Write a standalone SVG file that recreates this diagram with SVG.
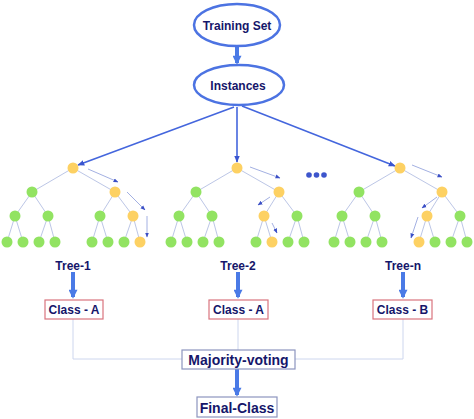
<svg xmlns="http://www.w3.org/2000/svg" xmlns:xlink="http://www.w3.org/1999/xlink" width="474" height="419" viewBox="0 0 474 419">
<style>
.lbl{font-family:"Liberation Sans",Arial,sans-serif;font-weight:bold;font-size:12px;fill:#15166a;text-anchor:middle}
.big{font-size:14px}
.ell{fill:#fff;stroke:#4c73e2;stroke-width:2.5}
.cls{fill:#fff;stroke:#d9747e;stroke-width:1.2}
.vote{fill:#fff;stroke:#8d95bf;stroke-width:1.2}
.edge{stroke:#bcc6e6;stroke-width:1;fill:none}
.g{fill:#92e362}
.o{fill:#fdd163}
.main{stroke:#4466dd;stroke-width:1.6;fill:none}
.thick{stroke:#4a7ae6;stroke-width:4;fill:none}
.small{stroke:#a3b0e2;stroke-width:1;fill:none}
.thin{stroke:#cdd6ee;stroke-width:1;fill:none}
</style>
<defs>
<marker id="ah" viewBox="0 0 10 10" refX="9" refY="5" markerWidth="7" markerHeight="7" markerUnits="userSpaceOnUse" orient="auto"><path d="M0,1 L10,5 L0,9 Z" fill="#3a55d0"/></marker>
<marker id="ahs" viewBox="0 0 10 10" refX="9" refY="5" markerWidth="5" markerHeight="5" markerUnits="userSpaceOnUse" orient="auto"><path d="M0,1 L10,5 L0,9 Z" fill="#3b4fc6"/></marker>
<marker id="aht" viewBox="0 0 10 10" refX="8" refY="5" markerWidth="10" markerHeight="9" markerUnits="userSpaceOnUse" orient="auto"><path d="M0,0 L10,5 L0,10 Z" fill="#4a7ae6"/></marker>
<path id="tedges" class="edge" d="M0,0 L-41,24 M0,0 L42,24 M-41,24 L-58,48 M-41,24 L-25,48 M42,24 L27,48 M42,24 L60,48 M-58,48 L-66,74 M-58,48 L-50,74 M-25,48 L-34,74 M-25,48 L-18,74 M27,48 L19,74 M27,48 L35,74 M60,48 L51,74 M60,48 L67,74"/>
</defs>

<g id="connectors">
<line class="thick" x1="237" y1="47" x2="237" y2="63" marker-end="url(#aht)"/>
<line class="main" x1="234" y1="107" x2="78" y2="165" marker-end="url(#ah)"/>
<line class="main" x1="237" y1="107" x2="237" y2="162" marker-end="url(#ah)"/>
<line class="main" x1="242" y1="106" x2="395" y2="166" marker-end="url(#ah)"/>
<line class="thick" x1="73" y1="272" x2="73" y2="297" marker-end="url(#aht)"/>
<line class="thick" x1="238" y1="272" x2="238" y2="297" marker-end="url(#aht)"/>
<line class="thick" x1="403" y1="272" x2="403" y2="297" marker-end="url(#aht)"/>
<path class="thin" d="M73,319 V359 H182 M403,319 V359 H295 M238,319 V350"/>
<line class="thick" x1="237" y1="369" x2="237" y2="395" marker-end="url(#aht)"/>
<g transform="translate(73,168)">
<line class="small" x1="15" y1="1" x2="45" y2="14" marker-end="url(#ahs)"/>
<line class="small" x1="54" y1="24" x2="72" y2="42" marker-end="url(#ahs)"/>
<line class="small" x1="74" y1="48" x2="74" y2="69" marker-end="url(#ahs)"/>
</g>
<g transform="translate(237,168)">
<line class="small" x1="13" y1="-1" x2="43" y2="10" marker-end="url(#ahs)"/>
<line class="small" x1="33" y1="29" x2="21" y2="37" marker-end="url(#ahs)"/>
<line class="small" x1="35" y1="55" x2="40" y2="65" marker-end="url(#ahs)"/>
</g>
<g transform="translate(400,168)">
<line class="small" x1="12" y1="-3" x2="42" y2="9" marker-end="url(#ahs)"/>
<line class="small" x1="37" y1="29" x2="22" y2="40" marker-end="url(#ahs)"/>
<line class="small" x1="18" y1="49" x2="11" y2="70" marker-end="url(#ahs)"/>
</g>
</g>

<g id="training-set">
<ellipse class="ell" cx="237" cy="25" rx="43" ry="21"/>
<text class="lbl" x="237" y="29.5">Training Set</text>
</g>
<g id="instances">
<ellipse class="ell" cx="239" cy="85" rx="45" ry="20"/>
<text class="lbl" x="238" y="89.5">Instances</text>
</g>

<g id="tree-1" transform="translate(73,168)">
<use xlink:href="#tedges" href="#tedges"/>
<circle class="o" cx="0" cy="0" r="5.5"/>
<circle class="g" cx="-41" cy="24" r="5.5"/><circle class="o" cx="42" cy="24" r="5.5"/>
<circle class="g" cx="-58" cy="48" r="5.5"/><circle class="g" cx="-25" cy="48" r="5.5"/><circle class="g" cx="27" cy="48" r="5.5"/><circle class="o" cx="60" cy="48" r="5.5"/>
<circle class="g" cx="-66" cy="74" r="5.5"/><circle class="g" cx="-50" cy="74" r="5.5"/><circle class="g" cx="-34" cy="74" r="5.5"/><circle class="g" cx="-18" cy="74" r="5.5"/>
<circle class="g" cx="19" cy="74" r="5.5"/><circle class="g" cx="35" cy="74" r="5.5"/><circle class="g" cx="51" cy="74" r="5.5"/><circle class="o" cx="67" cy="74" r="5.5"/>
</g>
<g id="tree-2" transform="translate(237,168)">
<use xlink:href="#tedges" href="#tedges"/>
<circle class="o" cx="0" cy="0" r="5.5"/>
<circle class="g" cx="-41" cy="24" r="5.5"/><circle class="o" cx="42" cy="24" r="5.5"/>
<circle class="g" cx="-58" cy="48" r="5.5"/><circle class="g" cx="-25" cy="48" r="5.5"/><circle class="o" cx="27" cy="48" r="5.5"/><circle class="g" cx="60" cy="48" r="5.5"/>
<circle class="g" cx="-66" cy="74" r="5.5"/><circle class="g" cx="-50" cy="74" r="5.5"/><circle class="g" cx="-34" cy="74" r="5.5"/><circle class="g" cx="-18" cy="74" r="5.5"/>
<circle class="g" cx="19" cy="74" r="5.5"/><circle class="o" cx="35" cy="74" r="5.5"/><circle class="g" cx="51" cy="74" r="5.5"/><circle class="g" cx="67" cy="74" r="5.5"/>
</g>
<g id="tree-n" transform="translate(400,168)">
<use xlink:href="#tedges" href="#tedges"/>
<circle class="o" cx="0" cy="0" r="5.5"/>
<circle class="g" cx="-41" cy="24" r="5.5"/><circle class="o" cx="42" cy="24" r="5.5"/>
<circle class="g" cx="-58" cy="48" r="5.5"/><circle class="g" cx="-25" cy="48" r="5.5"/><circle class="o" cx="27" cy="48" r="5.5"/><circle class="g" cx="60" cy="48" r="5.5"/>
<circle class="g" cx="-66" cy="74" r="5.5"/><circle class="g" cx="-50" cy="74" r="5.5"/><circle class="g" cx="-34" cy="74" r="5.5"/><circle class="g" cx="-18" cy="74" r="5.5"/>
<circle class="o" cx="19" cy="74" r="5.5"/><circle class="g" cx="35" cy="74" r="5.5"/><circle class="g" cx="51" cy="74" r="5.5"/><circle class="g" cx="67" cy="74" r="5.5"/>
</g>
<g id="ellipsis" fill="#3d55cc">
<circle cx="309" cy="175" r="2.8"/><circle cx="316.5" cy="175" r="2.8"/><circle cx="324" cy="175" r="2.8"/>
</g>

<g id="tree-1-label"><text class="lbl" x="73" y="270">Tree-1</text></g>
<g id="tree-2-label"><text class="lbl" x="238" y="270">Tree-2</text></g>
<g id="tree-n-label"><text class="lbl" x="403" y="270">Tree-n</text></g>

<g id="class-1"><rect class="cls" x="45" y="300" width="58" height="19"/><text class="lbl" x="74" y="314">Class - A</text></g>
<g id="class-2"><rect class="cls" x="209" y="300" width="59" height="19"/><text class="lbl" x="238.5" y="314">Class - A</text></g>
<g id="class-n"><rect class="cls" x="373" y="300" width="59" height="19"/><text class="lbl" x="402.5" y="314">Class - B</text></g>

<g id="majority-voting"><rect class="vote" x="182" y="350" width="113" height="19"/><text class="lbl big" x="238.5" y="365">Majority-voting</text></g>
<g id="final-class"><rect class="vote" x="197" y="397" width="80" height="20"/><text class="lbl big" x="237" y="412.5">Final-Class</text></g>
</svg>
